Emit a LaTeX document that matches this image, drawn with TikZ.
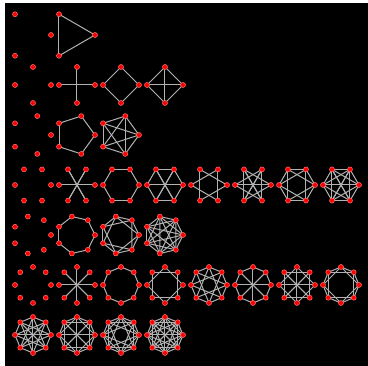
\documentclass[tikz,border=0pt]{standalone}
\pgfdeclarelayer{bgl}
\pgfdeclarelayer{edgel}
\pgfsetlayers{bgl,edgel,main}
\tikzset{
  vtx/.style={circle, fill=red, draw=red!55!white, line width=0.5pt, inner sep=0pt, minimum size=5pt},
  edg/.style={draw=white!70!black, line width=1pt},
}
% #1 name, #2 column, #3 row, #4 n, #5 radius
\newcommand{\cverts}[5]{%
  \pgfmathsetmacro{\cgx}{15+44*#2+36-#5}%
  \pgfmathsetmacro{\cgy}{35+50*#3}%
  \foreach \k in {1,...,#4} {
    \node[vtx] (#1-\k) at ({\cgx+#5*cos(360*(\k-1)/#4)}, {\cgy+#5*sin(360*(\k-1)/#4)}) {};
  }%
}
% #1 name, #2 n, #3 jumps
\newcommand{\cedges}[3]{%
  \begin{pgfonlayer}{edgel}
  \foreach \j in {#3} {
    \foreach \k in {1,...,#2} {
      \pgfmathtruncatemacro{\mk}{mod(\k-1+\j,#2)+1}
      \draw[edg] (#1-\k.center) -- (#1-\mk.center);
    }
  }
  \end{pgfonlayer}
}
\begin{document}
\begin{tikzpicture}[x=1pt,y=-1pt]
\begin{pgfonlayer}{bgl}
\fill[white] (0,0) rectangle (368,366);
\fill[black] (5,3) rectangle (368,366);
\end{pgfonlayer}
\useasboundingbox (0,0) rectangle (368,366);
% n = 3
\cverts{a0}{0}{0}{3}{24}
\cverts{a1}{1}{0}{3}{24} \cedges{a1}{3}{1}
% n = 4
\cverts{b0}{0}{1}{4}{18}
\cverts{b1}{1}{1}{4}{18} \cedges{b1}{4}{2}
\cverts{b2}{2}{1}{4}{18} \cedges{b2}{4}{1}
\cverts{b3}{3}{1}{4}{18} \cedges{b3}{4}{1,2}
% n = 5
\cverts{c0}{0}{2}{5}{19.9}
\cverts{c1}{1}{2}{5}{19.9} \cedges{c1}{5}{1}
\cverts{c2}{2}{2}{5}{19.9} \cedges{c2}{5}{1,2}
% n = 6
\cverts{d0}{0}{3}{6}{18}
\cverts{d1}{1}{3}{6}{18} \cedges{d1}{6}{3}
\cverts{d2}{2}{3}{6}{18} \cedges{d2}{6}{1}
\cverts{d3}{3}{3}{6}{18} \cedges{d3}{6}{1,3}
\cverts{d4}{4}{3}{6}{18} \cedges{d4}{6}{2}
\cverts{d5}{5}{3}{6}{18} \cedges{d5}{6}{2,3}
\cverts{d6}{6}{3}{6}{18} \cedges{d6}{6}{1,2}
\cverts{d7}{7}{3}{6}{18} \cedges{d7}{6}{1,2,3}
% n = 7
\cverts{e0}{0}{4}{7}{18.94}
\cverts{e1}{1}{4}{7}{18.94} \cedges{e1}{7}{1}
\cverts{e2}{2}{4}{7}{18.94} \cedges{e2}{7}{1,2}
\cverts{e3}{3}{4}{7}{18.94} \cedges{e3}{7}{1,2,3}
% n = 8
\cverts{f0}{0}{5}{8}{18}
\cverts{f1}{1}{5}{8}{18} \cedges{f1}{8}{4}
\cverts{f2}{2}{5}{8}{18} \cedges{f2}{8}{1}
\cverts{f3}{3}{5}{8}{18} \cedges{f3}{8}{2}
\cverts{f4}{4}{5}{8}{18} \cedges{f4}{8}{1,3}
\cverts{f5}{5}{5}{8}{18} \cedges{f5}{8}{1,4}
\cverts{f6}{6}{5}{8}{18} \cedges{f6}{8}{2,4}
\cverts{f7}{7}{5}{8}{18} \cedges{f7}{8}{1,2}
\cverts{g0}{0}{6}{8}{18} \cedges{g0}{8}{1,3,4}
\cverts{g1}{1}{6}{8}{18} \cedges{g1}{8}{1,2,4}
\cverts{g2}{2}{6}{8}{18} \cedges{g2}{8}{1,2,3}
\cverts{g3}{3}{6}{8}{18} \cedges{g3}{8}{1,2,3,4}
\end{tikzpicture}
\end{document}
